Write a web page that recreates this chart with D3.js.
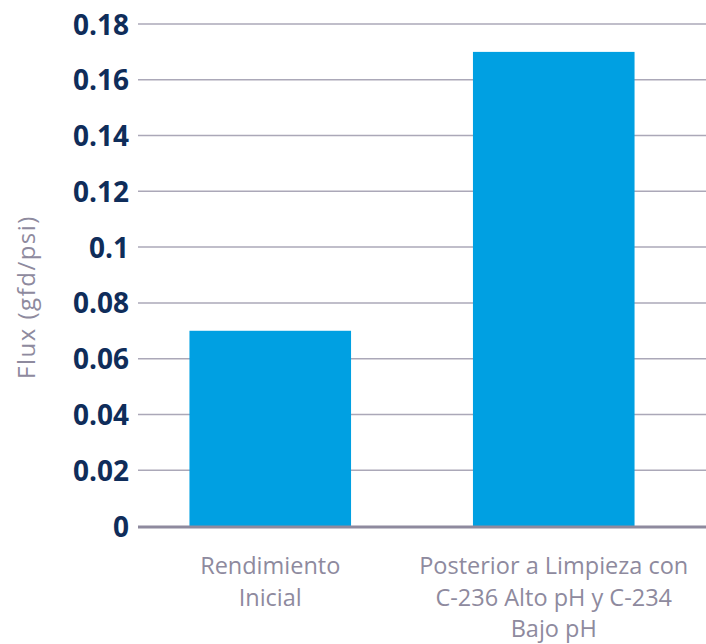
<!DOCTYPE html>
<html>
<head>
<meta charset="utf-8">
<script src="https://cdn.jsdelivr.net/npm/d3@7"></script>
<style>
  body { margin: 0; background: #fff; }
</style>
</head>
<body>
<div id="chart"></div>
<script>
// Data
var categories = [
  ["Rendimiento", "Inicial"],
  ["Posterior a Limpieza con", "C-236 Alto pH y C-234", "Bajo pH"]
];
var fluxValues = [0.07, 0.17];
var tickValues = [0, 0.02, 0.04, 0.06, 0.08, 0.1, 0.12, 0.14, 0.16, 0.18];

var svgWidth = 706;
var svgHeight = 644;

var svg = d3.select("#chart")
  .append("svg")
  .attr("width", svgWidth)
  .attr("height", svgHeight);

var xScale = d3.scaleBand()
  .domain(d3.range(fluxValues.length))
  .range([128.5, 695.5])
  .paddingInner(0.43)
  .paddingOuter(0.215);

var yScale = d3.scaleLinear()
  .domain([0, 0.18])
  .range([526, 24]);

// Gridlines + tick labels
var leftAxis = d3.axisLeft(yScale)
  .tickValues(tickValues)
  .tickSize(0)
  .tickPadding(0)
  .tickFormat(d => d === 0 ? "0" : String(+d.toFixed(2)));

var axisG = svg.append("g")
  .attr("transform", "translate(129, 0)")
  .call(leftAxis);
axisG.select(".domain").remove();
axisG.selectAll("text")
  .attr("x", 0)
  .attr("dy", "0.36em")
  .style("font-family", "'Open Sans', sans-serif")
  .style("font-weight", "bold")
  .style("font-size", "28px")
  .style("fill", "#0f2d5a");

svg.append("g").selectAll("line")
  .data(tickValues.filter(d => d > 0))
  .enter()
  .append("line")
  .attr("x1", 138)
  .attr("x2", svgWidth)
  .attr("y1", d => yScale(d))
  .attr("y2", d => yScale(d))
  .attr("stroke", "#aba8b8")
  .attr("stroke-width", 1.5);

// Bars
svg.append("g").selectAll("rect")
  .data(fluxValues)
  .enter()
  .append("rect")
  .attr("x", (d, i) => xScale(i))
  .attr("width", xScale.bandwidth())
  .attr("y", d => yScale(d))
  .attr("height", d => yScale(0) - yScale(d))
  .attr("fill", "#00a0e2");

// Baseline
svg.append("line")
  .attr("x1", 138)
  .attr("x2", svgWidth)
  .attr("y1", yScale(0) + 1)
  .attr("y2", yScale(0) + 1)
  .attr("stroke", "#8e8a9e")
  .attr("stroke-width", 3);

// Category labels
var catG = svg.append("g").selectAll("text")
  .data(categories)
  .enter()
  .append("text")
  .attr("text-anchor", "middle")
  .style("font-family", "'Open Sans', sans-serif")
  .style("font-size", "23.5px")
  .style("fill", "#8e8a9e");

catG.selectAll("tspan")
  .data((d, i) => d.map(t => ({ t: t, i: i })))
  .enter()
  .append("tspan")
  .attr("x", d => xScale(d.i) + xScale.bandwidth() / 2)
  .attr("y", (d, j) => 574 + j * 31.5)
  .text(d => d.t);

// Axis title
svg.append("text")
  .attr("transform", "translate(35, 297) rotate(-90)")
  .attr("text-anchor", "middle")
  .style("font-family", "'Open Sans', sans-serif")
  .style("font-size", "24px")
  .style("letter-spacing", "1.5px")
  .style("fill", "#8e8a9e")
  .text("Flux (gfd/psi)");
</script>
</body>
</html>
